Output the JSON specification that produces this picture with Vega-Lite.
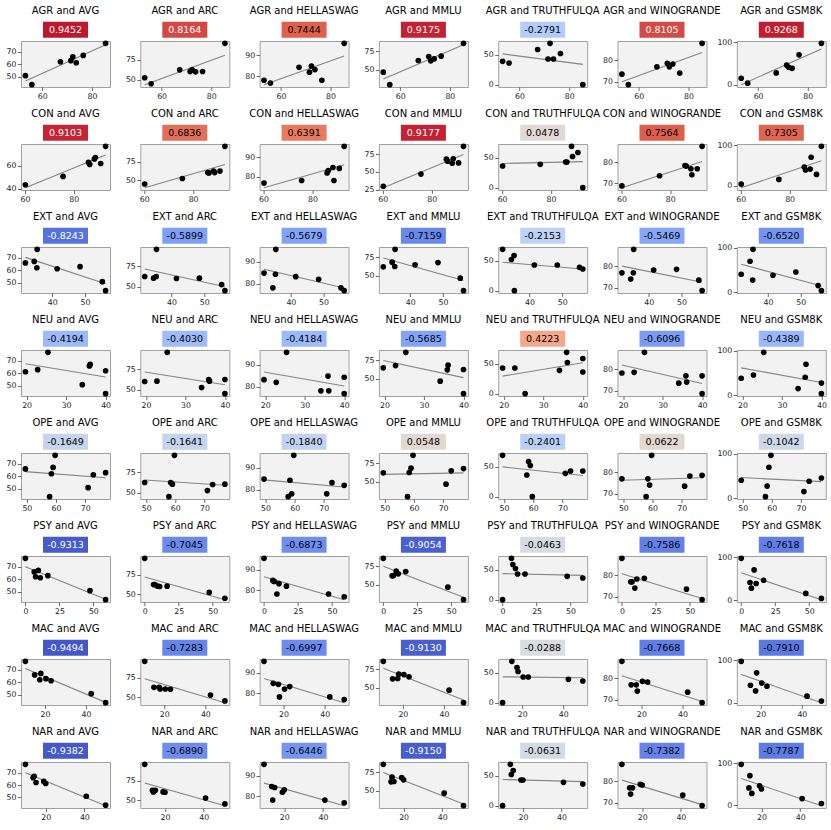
{
  "$schema": "https://vega.github.io/schema/vega-lite/v6.json",
  "background": "white",
  "padding": {"left": 5, "top": 5, "right": 5, "bottom": 5},
  "datasets": {
    "models": [
      {"model": "M1", "AGR": 53.2, "CON": 75.6, "EXT": 55.3, "NEU": 34.1, "OPE": 71.0, "PSY": 47.5, "MAC": 42.5, "NAR": 41.0, "AVG": 50.9, "ARC": 52.5, "HELLASWAG": 78.2, "MMLU": 47.0, "TRUTHFULQA": 39.0, "WINOGRANDE": 73.5, "GSM8K": 15.4},
      {"model": "M2", "AGR": 55.8, "CON": 60.2, "EXT": 56.3, "NEU": 40.0, "OPE": 57.8, "PSY": 59.0, "MAC": 49.5, "NAR": 51.0, "AVG": 43.6, "ARC": 45.0, "HELLASWAG": 76.9, "MMLU": 30.0, "TRUTHFULQA": 36.3, "WINOGRANDE": 68.6, "GSM8K": 3.8},
      {"model": "M3", "AGR": 67.3, "CON": 91.0, "EXT": 35.3, "NEU": 40.0, "OPE": 58.4, "PSY": 7.5, "MAC": 17.5, "NAR": 15.0, "AVG": 62.1, "ARC": 62.5, "HELLASWAG": 84.3, "MMLU": 62.7, "TRUTHFULQA": 58.8, "WINOGRANDE": 76.9, "GSM8K": 27.7},
      {"model": "M4", "AGR": 71.5, "CON": 86.0, "EXT": 48.5, "NEU": 22.8, "OPE": 77.0, "PSY": 16.5, "MAC": 20.5, "NAR": 19.0, "AVG": 63.0, "ARC": 60.4, "HELLASWAG": 82.0, "MMLU": 68.0, "TRUTHFULQA": 42.9, "WINOGRANDE": 78.5, "GSM8K": 46.0},
      {"model": "M5", "AGR": 72.3, "CON": 88.4, "EXT": 31.8, "NEU": 35.9, "OPE": 49.5, "PSY": 6.5, "MAC": 15.0, "NAR": 13.5, "AVG": 66.0, "ARC": 62.5, "HELLASWAG": 84.8, "MMLU": 62.3, "TRUTHFULQA": 69.2, "WINOGRANDE": 76.9, "GSM8K": 40.8},
      {"model": "M6", "AGR": 73.7, "CON": 86.5, "EXT": 41.5, "NEU": 19.7, "OPE": 72.8, "PSY": 11.0, "MAC": 23.0, "NAR": 20.0, "AVG": 61.3, "ARC": 60.0, "HELLASWAG": 83.2, "MMLU": 65.0, "TRUTHFULQA": 42.9, "WINOGRANDE": 78.2, "GSM8K": 38.5},
      {"model": "M7", "AGR": 76.5, "CON": 88.8, "EXT": 34.5, "NEU": 36.1, "OPE": 59.0, "PSY": 9.5, "MAC": 18.0, "NAR": 14.0, "AVG": 67.2, "ARC": 60.4, "HELLASWAG": 78.2, "MMLU": 68.6, "TRUTHFULQA": 52.2, "WINOGRANDE": 74.0, "GSM8K": 70.0},
      {"model": "M8", "AGR": 85.5, "CON": 93.0, "EXT": 35.4, "NEU": 25.4, "OPE": 59.7, "PSY": 0.0, "MAC": 10.5, "NAR": 9.5, "AVG": 77.0, "ARC": 96.0, "HELLASWAG": 95.5, "MMLU": 86.0, "TRUTHFULQA": 0.0, "WINOGRANDE": 87.8, "GSM8K": 97.0}
    ],
    "corr": [
      {"trait": "AGR", "AVG": 0.9452, "ARC": 0.8164, "HELLASWAG": 0.7444, "MMLU": 0.9175, "TRUTHFULQA": -0.2791, "WINOGRANDE": 0.8105, "GSM8K": 0.9268},
      {"trait": "CON", "AVG": 0.9103, "ARC": 0.6836, "HELLASWAG": 0.6391, "MMLU": 0.9177, "TRUTHFULQA": 0.0478, "WINOGRANDE": 0.7564, "GSM8K": 0.7305},
      {"trait": "EXT", "AVG": -0.8243, "ARC": -0.5899, "HELLASWAG": -0.5679, "MMLU": -0.7159, "TRUTHFULQA": -0.2153, "WINOGRANDE": -0.5469, "GSM8K": -0.6520},
      {"trait": "NEU", "AVG": -0.4194, "ARC": -0.4030, "HELLASWAG": -0.4184, "MMLU": -0.5685, "TRUTHFULQA": 0.4223, "WINOGRANDE": -0.6096, "GSM8K": -0.4389},
      {"trait": "OPE", "AVG": -0.1649, "ARC": -0.1641, "HELLASWAG": -0.1840, "MMLU": 0.0548, "TRUTHFULQA": -0.2401, "WINOGRANDE": 0.0622, "GSM8K": -0.1042},
      {"trait": "PSY", "AVG": -0.9313, "ARC": -0.7045, "HELLASWAG": -0.6873, "MMLU": -0.9054, "TRUTHFULQA": -0.0463, "WINOGRANDE": -0.7586, "GSM8K": -0.7618},
      {"trait": "MAC", "AVG": -0.9494, "ARC": -0.7283, "HELLASWAG": -0.6997, "MMLU": -0.9130, "TRUTHFULQA": -0.0288, "WINOGRANDE": -0.7668, "GSM8K": -0.7910},
      {"trait": "NAR", "AVG": -0.9382, "ARC": -0.6890, "HELLASWAG": -0.6446, "MMLU": -0.9150, "TRUTHFULQA": -0.0631, "WINOGRANDE": -0.7382, "GSM8K": -0.7787}
    ]
  },
  "data": {"name": "models"},
  "transform": [
    {"fold": ["AGR", "CON", "EXT", "NEU", "OPE", "PSY", "MAC", "NAR"], "as": ["trait", "tv"]},
    {"fold": ["AVG", "ARC", "HELLASWAG", "MMLU", "TRUTHFULQA", "WINOGRANDE", "GSM8K"], "as": ["bench", "bv"]},
    {"lookup": "trait", "from": {"data": {"name": "corr"}, "key": "trait"}, "as": "c"},
    {"calculate": "datum.c[datum.bench]", "as": "r"},
    {"calculate": "replace(format(datum.r, '.4f'), '\u2212', '-')", "as": "rtxt"},
    {"calculate": "datum.trait + ' and ' + datum.bench", "as": "ttl"}
  ],
  "facet": {
    "row": {"field": "trait", "type": "nominal", "sort": ["AGR", "CON", "EXT", "NEU", "OPE", "PSY", "MAC", "NAR"], "header": null},
    "column": {"field": "bench", "type": "nominal", "sort": ["AVG", "ARC", "HELLASWAG", "MMLU", "TRUTHFULQA", "WINOGRANDE", "GSM8K"], "header": null}
  },
  "bounds": "flush",
  "spacing": {"row": 57, "column": 30.3},
  "resolve": {"scale": {"x": "independent", "y": "independent"}},
  "spec": {
    "width": 89,
    "height": 46,
    "layer": [
      {
        "transform": [{"filter": "datum.model === 'M1'"}],
        "mark": {"type": "rect"},
        "encoding": {
          "x": {"value": 22},
          "x2": {"value": 67},
          "y": {"value": -19.3},
          "y2": {"value": -3.3},
          "fill": {
            "field": "r", "type": "quantitative", "legend": null,
            "scale": {
              "domain": [-1, -0.75, -0.5, -0.25, 0, 0.25, 0.5, 0.75, 1],
              "range": ["#3b4cc0", "#6282ea", "#8db0fe", "#b8d0f9", "#dddddd", "#f5c4ad", "#f49a7b", "#de604d", "#b40426"],
              "interpolate": "rgb"
            }
          }
        }
      },
      {
        "transform": [{"filter": "datum.model === 'M1'"}],
        "mark": {"type": "text", "align": "center", "baseline": "middle", "font": "DejaVu Sans", "fontSize": 9.5},
        "encoding": {
          "x": {"value": 44.5},
          "y": {"value": -11.3},
          "text": {"field": "rtxt", "type": "nominal"},
          "color": {"condition": {"test": "abs(datum.r) > 0.8", "value": "white"}, "value": "black"}
        }
      },
      {
        "transform": [{"filter": "datum.model === 'M1'"}],
        "mark": {"type": "text", "align": "center", "baseline": "alphabetic", "font": "DejaVu Sans", "fontSize": 10, "color": "black"},
        "encoding": {
          "x": {"value": 44.5},
          "y": {"value": -26.7},
          "text": {"field": "ttl", "type": "nominal"}
        }
      },
      {
        "transform": [{"regression": "bv", "on": "tv", "groupby": ["trait", "bench"]}],
        "mark": {"type": "line", "color": "#858585", "strokeWidth": 1.1},
        "encoding": {
          "x": {
            "field": "tv", "type": "quantitative",
            "scale": {"zero": false, "nice": false, "padding": 4.4},
            "axis": {
              "title": null,
              "labelOverlap": false,
              "tickCount": 20,
              "values": {"expr": "(domain('child_x')[1]-domain('child_x')[0])/3<=10?(length(sequence(ceil(domain('child_x')[0]/10)*10+0,domain('child_x')[1]+0.000001,10))>=2?sequence(ceil(domain('child_x')[0]/10)*10+0,domain('child_x')[1]+0.000001,10):sequence(ceil(domain('child_x')[0]/5)*5+0,domain('child_x')[1]+0.000001,5)):(domain('child_x')[1]-domain('child_x')[0])/3<=20?(length(sequence(ceil(domain('child_x')[0]/20)*20+0,domain('child_x')[1]+0.000001,20))>=2?sequence(ceil(domain('child_x')[0]/20)*20+0,domain('child_x')[1]+0.000001,20):sequence(ceil(domain('child_x')[0]/10)*10+0,domain('child_x')[1]+0.000001,10)):(domain('child_x')[1]-domain('child_x')[0])/3<=25?(length(sequence(ceil(domain('child_x')[0]/25)*25+0,domain('child_x')[1]+0.000001,25))>=2?sequence(ceil(domain('child_x')[0]/25)*25+0,domain('child_x')[1]+0.000001,25):sequence(ceil(domain('child_x')[0]/20)*20+0,domain('child_x')[1]+0.000001,20)):(domain('child_x')[1]-domain('child_x')[0])/3<=50?(length(sequence(ceil(domain('child_x')[0]/50)*50+0,domain('child_x')[1]+0.000001,50))>=2?sequence(ceil(domain('child_x')[0]/50)*50+0,domain('child_x')[1]+0.000001,50):sequence(ceil(domain('child_x')[0]/25)*25+0,domain('child_x')[1]+0.000001,25)):(length(sequence(ceil(domain('child_x')[0]/100)*100+0,domain('child_x')[1]+0.000001,100))>=2?sequence(ceil(domain('child_x')[0]/100)*100+0,domain('child_x')[1]+0.000001,100):sequence(ceil(domain('child_x')[0]/50)*50+0,domain('child_x')[1]+0.000001,50))"}
            }
          },
          "y": {
            "field": "bv", "type": "quantitative",
            "scale": {"zero": false, "nice": false, "padding": 2.3},
            "axis": {
              "title": null,
              "labelOverlap": false,
              "tickCount": 20,
              "values": {"expr": "(domain('child_y')[1]-domain('child_y')[0])/2<=10?(length(sequence(ceil(domain('child_y')[0]/10)*10+0,domain('child_y')[1]+0.000001,10))>=2?sequence(ceil(domain('child_y')[0]/10)*10+0,domain('child_y')[1]+0.000001,10):sequence(ceil(domain('child_y')[0]/5)*5+0,domain('child_y')[1]+0.000001,5)):(domain('child_y')[1]-domain('child_y')[0])/2<=20?(length(sequence(ceil(domain('child_y')[0]/20)*20+0,domain('child_y')[1]+0.000001,20))>=2?sequence(ceil(domain('child_y')[0]/20)*20+0,domain('child_y')[1]+0.000001,20):sequence(ceil(domain('child_y')[0]/10)*10+0,domain('child_y')[1]+0.000001,10)):(domain('child_y')[1]-domain('child_y')[0])/2<=25?(length(sequence(ceil(domain('child_y')[0]/25)*25+0,domain('child_y')[1]+0.000001,25))>=2?sequence(ceil(domain('child_y')[0]/25)*25+0,domain('child_y')[1]+0.000001,25):sequence(ceil(domain('child_y')[0]/20)*20+0,domain('child_y')[1]+0.000001,20)):(domain('child_y')[1]-domain('child_y')[0])/2<=50?(length(sequence(ceil(domain('child_y')[0]/50)*50+0,domain('child_y')[1]+0.000001,50))>=2?sequence(ceil(domain('child_y')[0]/50)*50+0,domain('child_y')[1]+0.000001,50):sequence(ceil(domain('child_y')[0]/25)*25+0,domain('child_y')[1]+0.000001,25)):(length(sequence(ceil(domain('child_y')[0]/100)*100+0,domain('child_y')[1]+0.000001,100))>=2?sequence(ceil(domain('child_y')[0]/100)*100+0,domain('child_y')[1]+0.000001,100):sequence(ceil(domain('child_y')[0]/50)*50+0,domain('child_y')[1]+0.000001,50))"}
            }
          }
        }
      },
      {
        "mark": {"type": "circle", "size": 32, "color": "black", "opacity": 1},
        "encoding": {
          "x": {"field": "tv", "type": "quantitative"},
          "y": {"field": "bv", "type": "quantitative"}
        }
      }
    ]
  },
  "config": {
    "font": "DejaVu Sans",
    "view": {"stroke": "#a0a0a0", "strokeWidth": 1, "fill": "#f2f2f2"},
    "axis": {
      "grid": false,
      "domain": false,
      "ticks": true,
      "tickSize": 3.5,
      "tickColor": "#444444",
      "tickWidth": 0.8,
      "labelFont": "DejaVu Sans",
      "labelFontSize": 7.8,
      "labelColor": "#222222",
      "labelPadding": 1.5,
      "labelOverlap": false,
      "labelFlush": false
    }
  }
}
